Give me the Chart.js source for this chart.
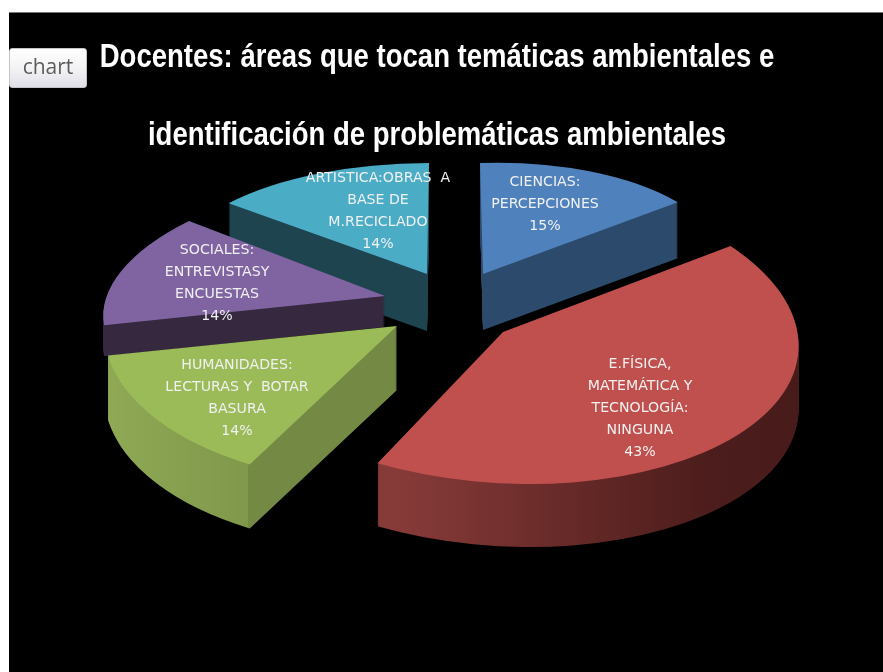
<!DOCTYPE html>
<html lang="es">
<head>
<meta charset="utf-8">
<title>Docentes</title>
<script src="https://cdn.jsdelivr.net/npm/chart.js@4"></script>
<style>
html,body{margin:0;padding:0;background:#fff;width:883px;height:672px;overflow:hidden}
#panel{position:absolute;left:9px;top:12px;width:874px;height:660px;background:#000;border-top:1px solid #777;box-sizing:border-box}
canvas{position:absolute;left:0;top:-1px}
#btn{position:absolute;left:9px;top:48px;width:78px;height:40px;padding:0 0 4px 0;border:1px solid #c4c4c8;border-radius:3px;
background:linear-gradient(#ffffff,#f2f2f4 55%,#dfdfe8);color:#5c5c5c;font:21px "Open Sans",sans-serif}
</style>
</head>
<body>
<div id="panel"><canvas id="c" width="874" height="660"></canvas></div>
<button id="btn">chart</button>
<script>
const titleLines = ["Docentes: áreas que tocan temáticas ambientales e", "identificación de problemáticas ambientales"];
const categories = ["CIENCIAS: PERCEPCIONES", "E.FÍSICA, MATEMÁTICA Y TECNOLOGÍA: NINGUNA", "HUMANIDADES: LECTURAS Y BOTAR BASURA", "SOCIALES: ENTREVISTASY ENCUESTAS", "ARTISTICA:OBRAS A BASE DE M.RECICLADO"];
const values = [15, 43, 14, 14, 14];
const labelLines = [
  ["CIENCIAS:", "PERCEPCIONES"],
  ["E.FÍSICA,", "MATEMÁTICA Y", "TECNOLOGÍA:", "NINGUNA"],
  ["HUMANIDADES:", "LECTURAS Y  BOTAR", "BASURA"],
  ["SOCIALES:", "ENTREVISTASY", "ENCUESTAS"],
  ["ARTISTICA:OBRAS  A", "BASE DE", "M.RECICLADO"]
];
const topColors = ["#4f81bd", "#c0504d", "#9bbb59", "#8064a2", "#4bacc6"];

// Pure styling: how each exploded slice is projected into the tilted 3D view (page pixels).
const ORIGIN = {x: 9, y: 12};
const drawOrder = [0, 4, 3, 2, 1];
const projection = [
  {apex: [483, 274], m: [243, -8, 3, 111],  depth: 56, side: [[0, "#2c4a6b"], [1, "#2c4a6b"]], span: [480, 680], label: [545, 182]},
  {apex: [503, 332], m: [295, 4, 19, 152],  depth: 63, side: [[0, "#873b39"], [.35, "#6b2c2a"], [.75, "#4c1d1c"], [1, "#481b1b"]], span: [378, 800], label: [640, 364]},
  {apex: [397, 326], m: [293, 0, -7, 158],  depth: 64, side: [[0, "#8fa955"], [.5, "#80984b"], [.5, "#748a44"], [1, "#748a44"]], span: [108, 400], label: [237, 365]},
  {apex: [385, 296], m: [280, -6, -31, 125],depth: 31, side: [[0, "#35283f"], [1, "#35283f"]], span: [104, 386], label: [217, 250]},
  {apex: [427, 274], m: [259, 0, -2, 111],  depth: 57, side: [[0, "#1e444f"], [1, "#1e444f"]], span: [229, 428], label: [378, 178]}
];
const titleStyle = {centerX: 437, firstY: 58, lineStep: 78, stretch: 0.834, font: 'bold 33px "Liberation Sans", sans-serif'};
const labelStyle = {font: '14px "DejaVu Sans", sans-serif', stretch: 1.01, lineStep: 22};

const arcOptions = fill => ({backgroundColor: fill, borderColor: fill, borderWidth: 0, borderAlign: "center",
  borderJoinStyle: "round", borderDash: [], borderDashOffset: 0, offset: 0, spacing: 0, borderRadius: 0, circular: true});

function paintSlice(ctx, arc, p, dy, fill) {
  ctx.save();
  ctx.translate(p.apex[0] - ORIGIN.x, p.apex[1] - ORIGIN.y + dy);
  const R = arc.outerRadius;
  ctx.transform(p.m[0] / R, p.m[1] / R, p.m[2] / R, p.m[3] / R, 0, 0);
  ctx.translate(-arc.x, -arc.y);
  let style = fill;
  if (Array.isArray(fill)) {
    const toLocal = X => arc.x + (X - p.apex[0]) / p.m[0] * R;
    style = ctx.createLinearGradient(toLocal(p.span[0]), 0, toLocal(p.span[1]), 0);
    fill.forEach(s => style.addColorStop(s[0], s[1]));
  }
  Object.create(arc, {options: {value: arcOptions(style)}}).draw(ctx);
  ctx.restore();
}

function stretchedText(ctx, text, x, y, stretch) {
  ctx.save();
  ctx.translate(x, y);
  ctx.scale(stretch, 1);
  ctx.fillText(text, 0, 0);
  ctx.restore();
}

const pie3d = {
  id: "pie3d",
  beforeDatasetsDraw(chart) {
    const ctx = chart.ctx, arcs = chart.getDatasetMeta(0).data;
    drawOrder.forEach(i => {
      const p = projection[i];
      for (let dy = p.depth; dy > 0; dy--) paintSlice(ctx, arcs[i], p, dy, p.side);
      paintSlice(ctx, arcs[i], p, 0, topColors[i]);
    });
    return false;
  },
  afterDraw(chart) {
    const ctx = chart.ctx;
    const total = values.reduce((a, b) => a + b, 0);
    ctx.save();
    ctx.textAlign = "center";
    ctx.textBaseline = "middle";
    ctx.font = labelStyle.font;
    ctx.fillStyle = "#f0f0f0";
    values.forEach((v, i) => {
      const p = projection[i];
      const lines = labelLines[i].concat(Math.round(v / total * 100) + "%");
      lines.forEach((t, k) => stretchedText(ctx, t, p.label[0] - ORIGIN.x, p.label[1] - ORIGIN.y + k * labelStyle.lineStep, labelStyle.stretch));
    });
    ctx.font = titleStyle.font;
    ctx.fillStyle = "#ffffff";
    titleLines.forEach((t, k) => stretchedText(ctx, t, titleStyle.centerX - ORIGIN.x, titleStyle.firstY - ORIGIN.y + k * titleStyle.lineStep, titleStyle.stretch));
    ctx.restore();
  }
};

new Chart(document.getElementById("c"), {
  type: "pie",
  data: {labels: categories, datasets: [{data: values, backgroundColor: topColors, borderWidth: 0}]},
  plugins: [pie3d],
  options: {
    responsive: false,
    animation: false,
    plugins: {
      legend: {display: false},
      tooltip: {enabled: false},
      title: {display: false}
    }
  }
});
</script>
</body>
</html>
